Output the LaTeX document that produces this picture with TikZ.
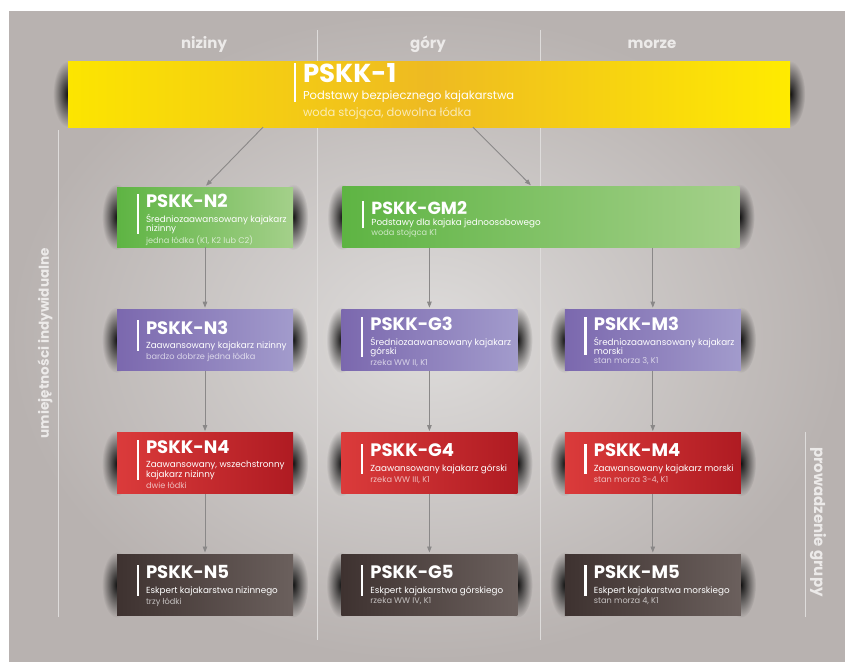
\documentclass[tikz,border=0pt]{standalone}
\usepackage{fontspec}
\setmainfont{Poppins}
\usetikzlibrary{positioning, arrows.meta, fadings}

\definecolor{bgGray}{HTML}{B8B2B0}
\definecolor{bgLight}{HTML}{DEDCDB}
\definecolor{lineGray}{HTML}{DEDCDB}
\definecolor{arrowGray}{HTML}{8A8888}
\definecolor{labelGray}{HTML}{ECEAE9}
\definecolor{yellowA}{HTML}{FCE500}
\definecolor{yellowB}{HTML}{EEBA22}
\definecolor{yellowC}{HTML}{FFEB00}
\definecolor{greenA}{HTML}{5EB443}
\definecolor{greenB}{HTML}{A4D08A}
\definecolor{purpleA}{HTML}{7B68AE}
\definecolor{purpleB}{HTML}{A29BCC}
\definecolor{redA}{HTML}{DB3B3B}
\definecolor{redB}{HTML}{AF1B22}
\definecolor{darkA}{HTML}{3E3230}
\definecolor{darkB}{HTML}{6B605D}

\newcommand{\titlefont}{\bfseries\fontsize{18}{20}\selectfont}
\newcommand{\subfont}{\fontsize{8.8}{9.5}\selectfont}
\newcommand{\notefont}{\fontsize{8.2}{9}\selectfont}

\tikzfading[name=glow, inner color=transparent!0, outer color=transparent!100]

\pgfdeclarelayer{back}
\pgfsetlayers{back,main}

\tikzset{
  card/.style={minimum width=176pt, minimum height=61pt, inner sep=0pt},
  yellowcard/.style={left color=yellowA, right color=yellowC, middle color=yellowB},
  greencard/.style={left color=greenA, right color=greenB},
  purplecard/.style={left color=purpleA, right color=purpleB},
  redcard/.style={left color=redA, right color=redB},
  darkcard/.style={left color=darkA, right color=darkB},
  head/.style={anchor=north west, inner sep=0pt, align=left, text=white, font=\subfont},
  note/.style={anchor=north west, inner sep=0pt, text=white, text opacity=0.68, font=\notefont},
  bar/.style={white, line width=2.5pt},
  link/.style={draw=arrowGray, line width=0.9pt, -{Triangle[length=6pt, width=4.5pt]}, shorten >=1.5pt},
  divider/.style={lineGray, line width=1pt},
  collabel/.style={text=labelGray, font=\bfseries\fontsize{15}{17}\selectfont},
  glowshade/.style={black, opacity=0.9, path fading=glow},
}

\begin{document}
\begin{tikzpicture}[x=1pt, y=-1pt, node distance=62pt]
\useasboundingbox (0,0) rectangle (845,661);

% boxes
\node[card, yellowcard, minimum width=722pt, minimum height=66pt] (p1) at (429,94) {};
\node[card, greencard, minimum height=60pt] (n2) at (205,217) {};
\node[card, greencard, minimum width=397pt, right=49pt of n2] (gm2) {};
\node[card, purplecard, below=of n2] (n3) {};
\node[card, purplecard, right=48pt of n3] (g3) {};
\node[card, purplecard, right=47pt of g3] (m3) {};
\node[card, redcard, below=of n3] (n4) {};
\node[card, redcard, right=48pt of n4] (g4) {};
\node[card, redcard, right=47pt of g4] (m4) {};
\node[card, darkcard, below=60pt of n4] (n5) {};
\node[card, darkcard, right=48pt of n5] (g5) {};
\node[card, darkcard, right=47pt of g5] (m5) {};

% texts
\node[head, font=\fontsize{11.5}{17}\selectfont] (p1t) at ([xshift=235pt, yshift=31pt]p1.west) {{\bfseries\fontsize{26}{28}\selectfont PSKK-1}\\Podstawy bezpiecznego kajakarstwa};
\node[note, font=\fontsize{11.5}{13}\selectfont, below=5pt of p1t.south west, anchor=north west] (p1n) {woda stojąca, dowolna łódka};
\draw[bar] ([xshift=-8pt]p1t.north west) -- ([xshift=-8pt]p1t.south west);

\node[head] (n2t) at ([xshift=29pt, yshift=23pt]n2.west) {{\titlefont PSKK-N2}\\[5pt]Średniozaawansowany kajakarz\\nizinny};
\node[note, below=2pt of n2t.south west, anchor=north west] (n2n) {jedna łódka (K1, K2 lub C2)};
\draw[bar] ([xshift=-8pt]n2t.north west) -- ([xshift=-8pt]n2t.south west);

\node[head] (gm2t) at ([xshift=29pt, yshift=16pt]gm2.west) {{\bfseries\fontsize{17.5}{19}\selectfont PSKK-GM2}\\[2pt]Podstawy dla kajaka jednoosobowego};
\node[note, below=1pt of gm2t.south west, anchor=north west] (gm2n) {woda stojąca K1};
\draw[bar] ([xshift=-8pt]gm2t.north west) -- ([xshift=-8pt]gm2t.south west);

\node[head] (n3t) at ([xshift=29pt, yshift=19.5pt]n3.west) {{\titlefont PSKK-N3}\\[5pt]Zaawansowany kajakarz nizinny};
\node[note, below=2pt of n3t.south west, anchor=north west] (n3n) {bardzo dobrze jedna łódka};
\draw[bar] ([xshift=-8pt]n3t.north west) -- ([xshift=-8pt]n3t.south west);

\node[head] (g3t) at ([xshift=29pt, yshift=23pt]g3.west) {{\titlefont PSKK-G3}\\[5pt]Średniozaawansowany kajakarz\\górski};
\node[note, below=2pt of g3t.south west, anchor=north west] (g3n) {rzeka WW II, K1};
\draw[bar] ([xshift=-8pt]g3t.north west) -- ([xshift=-8pt]g3t.south west);

\node[head] (m3t) at ([xshift=29pt, yshift=23pt]m3.west) {{\titlefont PSKK-M3}\\[5pt]Średniozaawansowany kajakarz\\morski};
\node[note, below=2pt of m3t.south west, anchor=north west] (m3n) {stan morza 3, K1};
\draw[bar] ([xshift=-8pt]m3t.north west) -- ([xshift=-8pt]m3t.south west);

\node[head] (n4t) at ([xshift=29pt, yshift=23pt]n4.west) {{\titlefont PSKK-N4}\\[5pt]Zaawansowany, wszechstronny\\kajakarz nizinny};
\node[note, below=2pt of n4t.south west, anchor=north west] (n4n) {dwie łódki};
\draw[bar] ([xshift=-8pt]n4t.north west) -- ([xshift=-8pt]n4t.south west);

\node[head] (g4t) at ([xshift=29pt, yshift=19.5pt]g4.west) {{\titlefont PSKK-G4}\\[5pt]Zaawansowany kajakarz górski};
\node[note, below=2pt of g4t.south west, anchor=north west] (g4n) {rzeka WW III, K1};
\draw[bar] ([xshift=-8pt]g4t.north west) -- ([xshift=-8pt]g4t.south west);

\node[head] (m4t) at ([xshift=29pt, yshift=19.5pt]m4.west) {{\titlefont PSKK-M4}\\[5pt]Zaawansowany kajakarz morski};
\node[note, below=2pt of m4t.south west, anchor=north west] (m4n) {stan morza 3-4, K1};
\draw[bar] ([xshift=-8pt]m4t.north west) -- ([xshift=-8pt]m4t.south west);

\node[head] (n5t) at ([xshift=29pt, yshift=19.5pt]n5.west) {{\titlefont PSKK-N5}\\[5pt]Eskpert kajakarstwa nizinnego};
\node[note, below=2pt of n5t.south west, anchor=north west] (n5n) {trzy łódki};
\draw[bar] ([xshift=-8pt]n5t.north west) -- ([xshift=-8pt]n5t.south west);

\node[head] (g5t) at ([xshift=29pt, yshift=19.5pt]g5.west) {{\titlefont PSKK-G5}\\[5pt]Eskpert kajakarstwa górskiego};
\node[note, below=2pt of g5t.south west, anchor=north west] (g5n) {rzeka WW IV, K1};
\draw[bar] ([xshift=-8pt]g5t.north west) -- ([xshift=-8pt]g5t.south west);

\node[head] (m5t) at ([xshift=29pt, yshift=19.5pt]m5.west) {{\titlefont PSKK-M5}\\[5pt]Eskpert kajakarstwa morskiego};
\node[note, below=2pt of m5t.south west, anchor=north west] (m5n) {stan morza 4, K1};
\draw[bar] ([xshift=-8pt]m5t.north west) -- ([xshift=-8pt]m5t.south west);

% column and side labels
\node[collabel] (niziny) at (204,44) {niziny};
\node[collabel] (gory) at (428,44) {góry};
\node[collabel] (morze) at (652,44) {morze};
\node[collabel, font=\bfseries\fontsize{13.6}{15}\selectfont, rotate=90] (indyw) at (45,343) {umiejętności indywidualne};
\node[collabel, rotate=-90] (grupy) at (818,522) {prowadzenie grupy};

% background, dividers and shadows
\begin{pgfonlayer}{back}
  \shade[inner color=bgLight, outer color=bgGray] (9,12) rectangle (845,661);
  \draw[divider] (317,30) -- (317,640);
  \draw[divider] (540,30) -- (540,640);
  \draw[divider] (58,130) -- (58,617);
  \draw[divider] (805,432) -- (805,617);
  \foreach \c in {p1,n2,gm2,n3,g3,m3,n4,g4,m4,n5,g5,m5}{
    \fill[glowshade] (\c.west) ellipse (15pt and 33pt);
    \fill[glowshade] (\c.east) ellipse (15pt and 33pt);
  }
\end{pgfonlayer}

% arrows
\draw[link] ([xshift=-166pt]p1.south) -- (n2.north);
\draw[link] ([xshift=44pt]p1.south) -- ([xshift=-9pt]gm2.north);
\draw[link] (n2) -- (n3);
\draw[link] (gm2.south -| g3.north) -- (g3.north);
\draw[link] (gm2.south -| m3.north) -- (m3.north);
\draw[link] (n3) -- (n4);
\draw[link] (g3) -- (g4);
\draw[link] (m3) -- (m4);
\draw[link] (n4) -- (n5);
\draw[link] (g4) -- (g5);
\draw[link] (m4) -- (m5);
\end{tikzpicture}
\end{document}
